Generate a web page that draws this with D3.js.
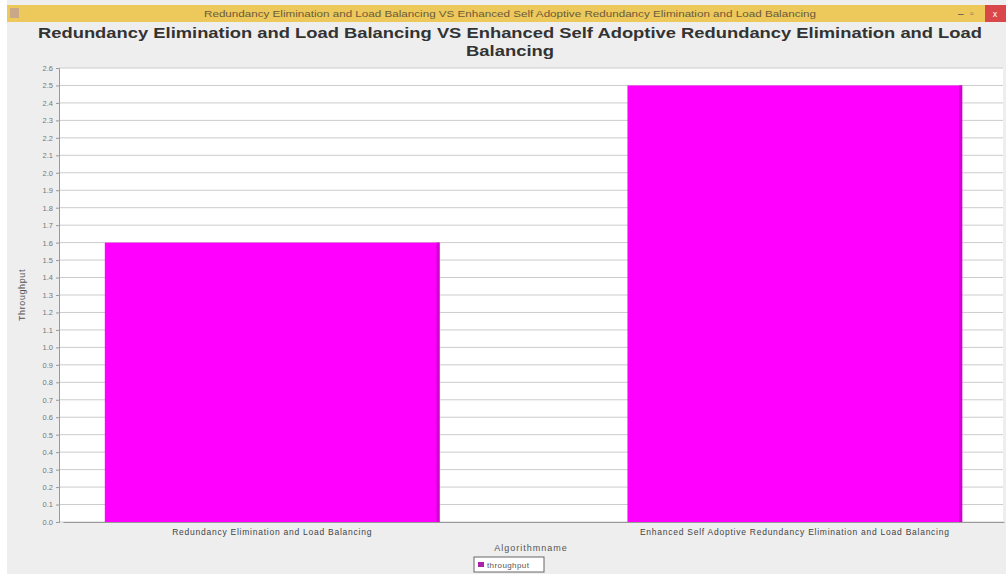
<!DOCTYPE html>
<html lang="en">
<head>
    <meta charset="utf-8">
    <title>Throughput</title>
    <script src="https://d3js.org/d3.v7.min.js" charset="utf-8"></script>
    <style type="text/css">
        body { margin: 0; background: #ffffff; }
        .bar { fill: #ff00ff; }
    </style>
</head>
<body>
    <script type="text/javascript">
    // chart data
    var categories = ["Redundancy Elimination and Load Balancing",
                      "Enhanced Self Adoptive Redundancy Elimination and Load Balancing"];
    var throughput = [1.6, 2.5];
    var yTicks = [0.0, 0.1, 0.2, 0.3, 0.4, 0.5, 0.6, 0.7, 0.8, 0.9, 1.0, 1.1, 1.2,
                  1.3, 1.4, 1.5, 1.6, 1.7, 1.8, 1.9, 2.0, 2.1, 2.2, 2.3, 2.4, 2.5, 2.6];
    var seriesName = "throughput";
    var titleLines = ["Redundancy Elimination and Load Balancing VS Enhanced Self Adoptive Redundancy Elimination and Load",
                      "Balancing"];
    var windowTitle = "Redundancy Elimination and Load Balancing VS Enhanced Self Adoptive Redundancy Elimination and Load Balancing";

    var W = 1006, H = 574;
    var plot = { left: 59, right: 1003, top: 68, bottom: 522 };
    var font = "'Liberation Sans', Arial, sans-serif";

    var svg = d3.select("body").append("svg")
        .attr("width", W)
        .attr("height", H);

    // window frame
    svg.append("rect").attr("x", 7).attr("y", 0).attr("width", W - 7).attr("height", H)
        .attr("fill", "#eeeeee");
    svg.append("rect").attr("x", 7).attr("y", 5).attr("width", W - 7).attr("height", 17)
        .attr("fill", "#ecc95a");
    svg.append("rect").attr("x", 10).attr("y", 8).attr("width", 9).attr("height", 10)
        .attr("fill", "#c9a889");
    svg.append("rect").attr("x", 985).attr("y", 5).attr("width", 21).attr("height", 17)
        .attr("fill", "#d9474a");
    svg.append("text").attr("x", 995).attr("y", 17).attr("text-anchor", "middle")
        .attr("font-family", font).attr("font-size", "9px").attr("fill", "#ffffff").text("x");
    svg.append("text").attr("x", 958).attr("y", 17)
        .attr("font-family", font).attr("font-size", "10px").attr("fill", "#555555").text("–");
    svg.append("text").attr("x", 970).attr("y", 17)
        .attr("font-family", font).attr("font-size", "10px").attr("fill", "#555555").text("▫");
    svg.append("text").attr("x", 510).attr("y", 17).attr("text-anchor", "middle")
        .attr("font-family", font).attr("font-size", "9px").attr("fill", "#6b5a3a")
        .attr("textLength", 612).attr("lengthAdjust", "spacingAndGlyphs")
        .text(windowTitle);

    // title
    var titleWidths = [944, 88];
    svg.selectAll(".title").data(titleLines).enter().append("text")
        .attr("class", "title")
        .attr("x", 510)
        .attr("y", function (d, i) { return 38 + i * 18; })
        .attr("text-anchor", "middle")
        .attr("font-family", font).attr("font-weight", "bold").attr("font-size", "15px")
        .attr("fill", "#333333")
        .attr("textLength", function (d, i) { return titleWidths[i]; })
        .attr("lengthAdjust", "spacingAndGlyphs")
        .text(function (d) { return d; });

    // scales
    var x = d3.scaleBand()
        .domain(categories)
        .range([63, 1004])
        .paddingInner(0.3595)
        .paddingOuter(0.08);
    var y = d3.scaleLinear()
        .domain([0, 2.6])
        .range([plot.bottom, plot.top]);

    svg.append("rect")
        .attr("x", plot.left).attr("y", plot.top)
        .attr("width", plot.right - plot.left).attr("height", plot.bottom - plot.top)
        .attr("fill", "#ffffff");

    // gridlines
    svg.append("g").selectAll("line").data(yTicks).enter().append("line")
        .attr("x1", plot.left).attr("x2", plot.right)
        .attr("y1", function (d) { return y(d); })
        .attr("y2", function (d) { return y(d); })
        .attr("stroke", "#cccccc").attr("stroke-width", 1);

    // bars
    svg.selectAll(".bar").data(throughput).enter().append("rect")
        .attr("class", "bar")
        .attr("x", function (d, i) { return x(categories[i]); })
        .attr("y", function (d) { return y(d); })
        .attr("width", x.bandwidth())
        .attr("height", function (d) { return y(0) - y(d); });
    svg.selectAll(".shade").data(throughput).enter().append("rect")
        .attr("x", function (d, i) { return x(categories[i]) + x.bandwidth() - 3; })
        .attr("y", function (d) { return y(d); })
        .attr("width", 3)
        .attr("height", function (d) { return y(0) - y(d); })
        .attr("fill", "#d000d0");

    // axes
    var yAxis = svg.append("g")
        .attr("transform", "translate(" + plot.left + ",0)")
        .call(d3.axisLeft(y).tickValues(yTicks).tickFormat(d3.format(".1f")).tickSize(3));
    yAxis.selectAll("text").attr("font-family", font).attr("font-size", "7.5px").attr("fill", "#777777");
    yAxis.selectAll("line, path").attr("stroke", "#999999");

    var xAxis = svg.append("g")
        .attr("transform", "translate(0," + plot.bottom + ")")
        .call(d3.axisBottom(x).tickSize(0).tickPadding(7));
    xAxis.selectAll("text").attr("font-family", font).attr("font-size", "8.5px").attr("fill", "#444444")
        .attr("letter-spacing", "0.75px");
    xAxis.select(".domain").attr("stroke", "#999999");

    // axis titles
    svg.append("text")
        .attr("transform", "translate(25," + ((plot.top + plot.bottom) / 2) + ") rotate(-90)")
        .attr("text-anchor", "middle")
        .attr("font-family", font).attr("font-size", "9px").attr("fill", "#555555")
        .attr("letter-spacing", "0.6px")
        .text("Throughput");
    svg.append("text")
        .attr("x", 531).attr("y", 551)
        .attr("text-anchor", "middle")
        .attr("font-family", font).attr("font-size", "9px").attr("fill", "#555555")
        .attr("letter-spacing", "1px")
        .text("Algorithmname");

    // legend
    var legend = svg.append("g").attr("transform", "translate(474,557)");
    legend.append("rect").attr("width", 70).attr("height", 15)
        .attr("fill", "#ffffff").attr("stroke", "#666666");
    legend.append("rect").attr("x", 4).attr("y", 5).attr("width", 6).attr("height", 5)
        .attr("fill", "#aa22aa");
    legend.append("text").attr("x", 13).attr("y", 11)
        .attr("font-family", font).attr("font-size", "8px").attr("fill", "#555555")
        .attr("letter-spacing", "0.4px")
        .text(seriesName);
    </script>
</body>
</html>
